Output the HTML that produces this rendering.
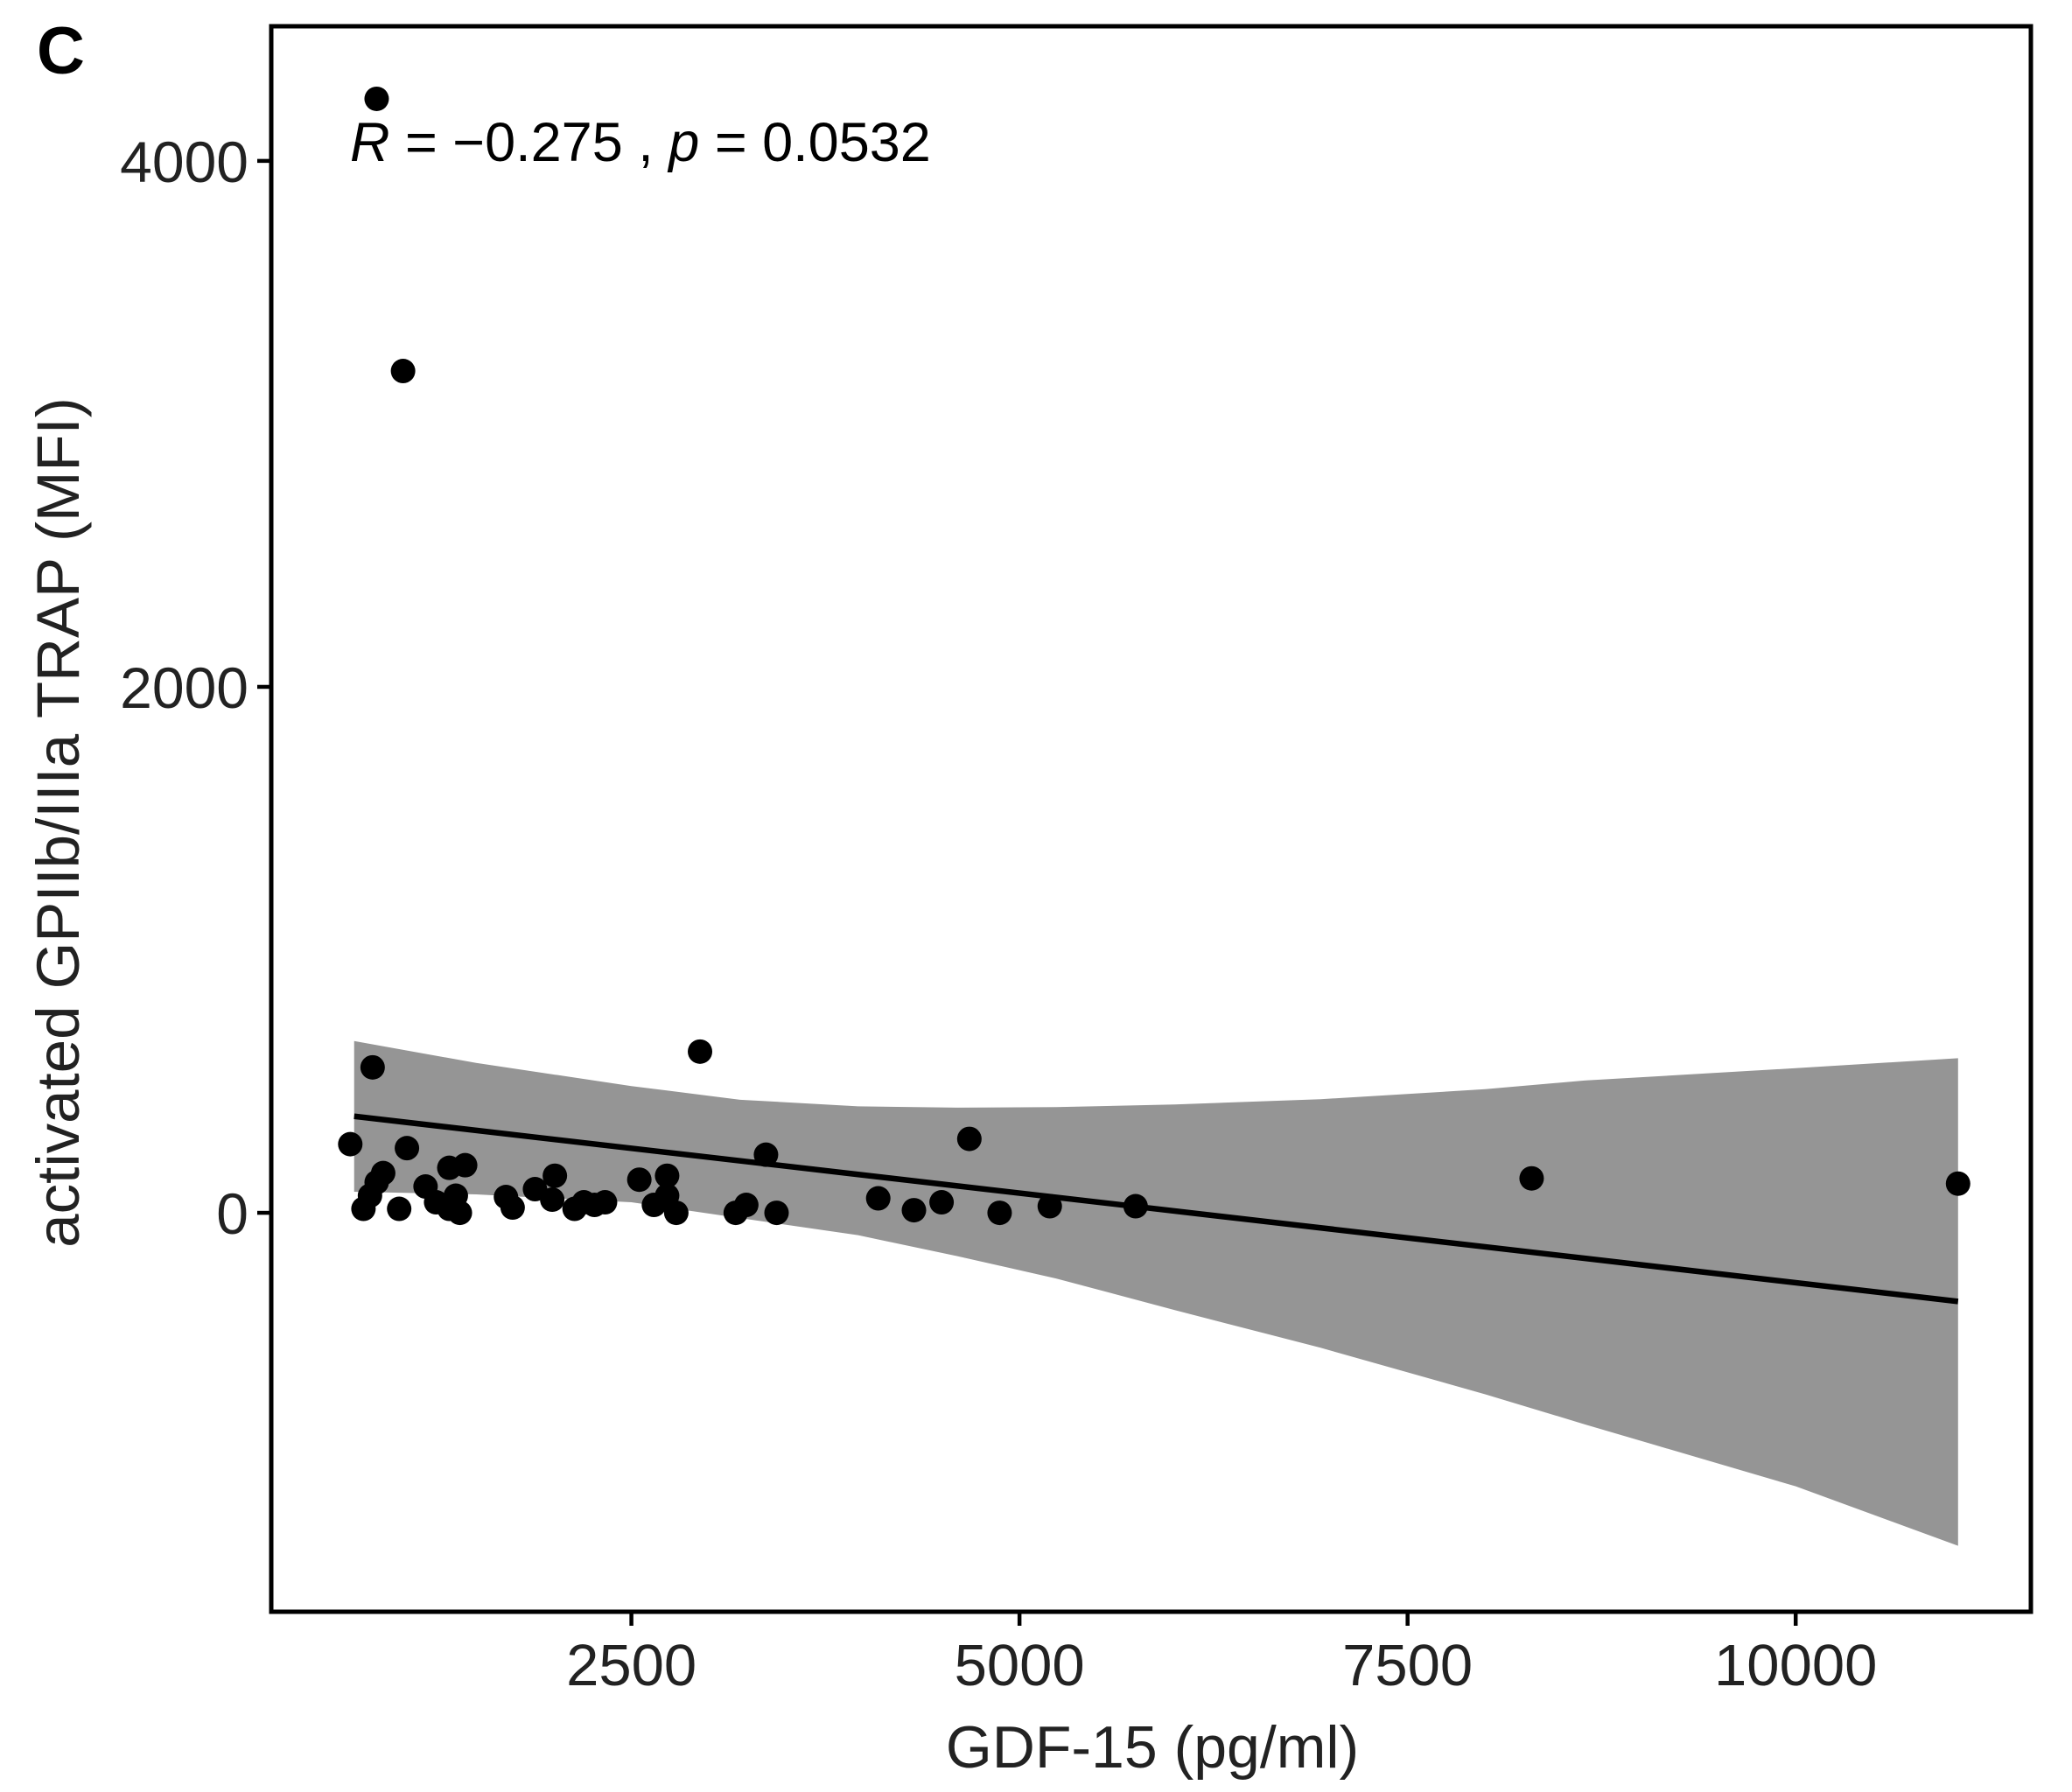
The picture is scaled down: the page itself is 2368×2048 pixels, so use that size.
<!DOCTYPE html>
<html><head><meta charset="utf-8"><style>html,body{margin:0;padding:0;background:#fff}svg{display:block}</style></head>
<body>
<svg id="chart" width="2368" height="2048" xmlns="http://www.w3.org/2000/svg" font-family="'Liberation Sans', sans-serif">
<text x="42" y="84" font-size="76" font-weight="bold">C</text>
<g id="band"></g>
<g id="fit"></g>
<g id="pts"></g>
<g id="axes"></g>
<text x="400" y="184" font-size="63"><tspan font-style="italic">R</tspan> = −0.275 , <tspan font-style="italic">p</tspan> = 0.0532</text>
<text x="1317" y="2020" font-size="68" text-anchor="middle" fill="#222">GDF-15 (pg/ml)</text>
<text transform="translate(90,940) rotate(-90)" font-size="69" text-anchor="middle" fill="#222">activated GPIIb/IIIa TRAP (MFI)</text>
</svg>
<script>
const xs=[859,1029,2942,833,689,1054,4677,3367,8299,11046,774,816,859,901,1004,1174,1242,1327,1327,1369,1395,1429,1692,1735,1879,1990,2007,2134,2194,2262,2330,2551,2645,2730,2730,2789,3172,3240,3435,4090,4320,4498,4872,5195,5748];
const ys=[4236,3201,613,553,261,246,281,221,131,111,15,65,116,151,15,100,40,15,171,65,0,181,60,20,90,50,141,15,40,30,40,126,30,141,65,0,0,30,0,55,10,40,0,25,25];
const fitX=[714,11046];
const fitY=[367,-337];
const bandX=[714,1500,2500,3200,3960,4600,5238,6000,6939,8000,8639,10000,11046];
const bandUpper=[653,570,482,430,405,400,402,412,432,470,503,550,588];
const bandLower=[80,70,40,-20,-85,-165,-250,-370,-513,-690,-804,-1040,-1266];
const xTicks=[2500,5000,7500,10000];
const yTicks=[0,2000,4000];
const xTickLabels=["2500","5000","7500","10000"];
const yTickLabels=["0","2000","4000"];

const L=310,R=2321,T=30,B=1842;
const xmin=180,xmax=11515,ymin=-1517,ymax=4512;
const sx=v=>L+(v-xmin)/(xmax-xmin)*(R-L);
const sy=v=>B-(v-ymin)/(ymax-ymin)*(B-T);
const NS="http://www.w3.org/2000/svg";
function mk(tag,parent){const e=document.createElementNS(NS,tag);document.getElementById(parent).appendChild(e);return e;}

let d="";
bandX.forEach((x,i)=>{d+=(i?"L":"M")+sx(x)+","+sy(bandUpper[i]);});
for(let i=bandX.length-1;i>=0;i--){d+="L"+sx(bandX[i])+","+sy(bandLower[i]);}
const band=mk("path","band");


band.setAttribute("d",d+"Z");band.setAttribute("fill","#959595");

const ln=mk("line","fit");


ln.setAttribute("x1",sx(fitX[0]));ln.setAttribute("y1",sy(fitY[0]));
ln.setAttribute("x2",sx(fitX[1]));ln.setAttribute("y2",sy(fitY[1]));
ln.setAttribute("stroke","#000");ln.setAttribute("stroke-width","6.5");

xs.forEach((x,i)=>{const c=mk("circle","pts");


c.setAttribute("cx",sx(x));c.setAttribute("cy",sy(ys[i]));c.setAttribute("r","14");c.setAttribute("fill","#000");});

const fr=mk("rect","axes");


fr.setAttribute("x",L);fr.setAttribute("y",T);fr.setAttribute("width",R-L);fr.setAttribute("height",B-T);
fr.setAttribute("fill","none");fr.setAttribute("stroke","#000");fr.setAttribute("stroke-width","5");

xTicks.forEach((v,i)=>{const t=mk("line","axes");


t.setAttribute("x1",sx(v));t.setAttribute("x2",sx(v));t.setAttribute("y1",B);t.setAttribute("y2",B+16);
t.setAttribute("stroke","#000");t.setAttribute("stroke-width","4.5");
const tx=mk("text","axes");


tx.setAttribute("x",sx(v));tx.setAttribute("y",B+84);tx.setAttribute("font-size","67");
tx.setAttribute("text-anchor","middle");tx.setAttribute("fill","#222");tx.textContent=xTickLabels[i];});

yTicks.forEach((v,i)=>{const t=mk("line","axes");


t.setAttribute("x1",L-16);t.setAttribute("x2",L);t.setAttribute("y1",sy(v));t.setAttribute("y2",sy(v));
t.setAttribute("stroke","#000");t.setAttribute("stroke-width","4.5");
const tx=mk("text","axes");


tx.setAttribute("x",L-26);tx.setAttribute("y",sy(v)+24);tx.setAttribute("font-size","66");
tx.setAttribute("text-anchor","end");tx.setAttribute("fill","#222");tx.textContent=yTickLabels[i];});
</script>
</body></html>
